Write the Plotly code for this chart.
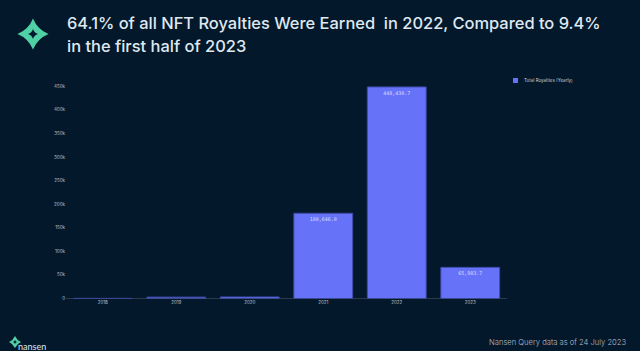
import plotly.graph_objects as go

W, H = 640, 351
BG = "#04182b"

years = ["2018", "2019", "2020", "2021", "2022", "2023"]
royalties = [300, 2900, 3300, 180646.0, 448430.7, 65983.7]
bar_labels = ["", "", "", "180,646.0", "448,430.7", "65,983.7"]
y_ticks = [0, 50000, 100000, 150000, 200000, 250000, 300000, 350000, 400000, 450000]
y_tick_labels = ["0", "50k", "100k", "150k", "200k", "250k", "300k", "350k", "400k", "450k"]
title_lines = ["64.1% of all NFT Royalties Were Earned  in 2022, Compared to 9.4%",
               "in the first half of 2023"]
series_name = "Total Royalties (Yearly)"
source_note = "Nansen Query data as of 24 July 2023"
brand = "nansen"


def px(x):
    return x / W


def py(y):
    return 1 - y / H


def star(cx, cy, r, k):
    d = f"M {px(cx)} {py(cy - r)} "
    d += f"Q {px(cx + k)} {py(cy - k)} {px(cx + r)} {py(cy)} "
    d += f"Q {px(cx + k)} {py(cy + k)} {px(cx)} {py(cy + r)} "
    d += f"Q {px(cx - k)} {py(cy + k)} {px(cx - r)} {py(cy)} "
    d += f"Q {px(cx - k)} {py(cy - k)} {px(cx)} {py(cy - r)} Z"
    return d


def logo_star(cx, cy, r, k, color):
    return dict(type="path", xref="paper", yref="paper", path=star(cx, cy, r, k),
                fillcolor=color, line=dict(width=0))


fig = go.Figure(go.Bar(
    x=years, y=royalties, name=series_name,
    marker=dict(color="#6673f8", line=dict(color="#3f4ca8", width=1)),
    text=bar_labels, textposition="inside", insidetextanchor="end",
    textangle=0, constraintext="none",
    textfont=dict(family="DejaVu Sans Mono", size=5, color="#d8dcff"),
    width=0.8, showlegend=False,
))

TITLE_FONT = dict(family="Inter", size=16.45, color="#dfe8f1", weight=500)
annotations = [
    dict(text=title_lines[0], x=px(65), y=py(23), xref="paper", yref="paper",
         xanchor="left", yanchor="middle", showarrow=False, font=TITLE_FONT),
    dict(text=title_lines[1], x=px(65), y=py(46.5), xref="paper", yref="paper",
         xanchor="left", yanchor="middle", showarrow=False, font=TITLE_FONT),
    dict(text=source_note, x=px(486.5), y=py(342.5), xref="paper", yref="paper",
         xanchor="left", yanchor="middle", showarrow=False,
         font=dict(family="Inter", size=7.6, color="#b4bfca", weight=300)),
    dict(text=brand, x=px(16), y=py(346.5), xref="paper", yref="paper",
         xanchor="left", yanchor="middle", showarrow=False,
         font=dict(family="Lato", size=9, color="#dfe8f1")),
    dict(text=series_name, x=px(521.5), y=py(80.5), xref="paper", yref="paper",
         xanchor="left", yanchor="middle", showarrow=False,
         font=dict(family="Inter", size=4.5, color="#c4ccd6")),
]

shapes = [
    logo_star(33, 34, 15.5, 4.5, "#4fd1a5"),
    logo_star(33, 34, 5, 1.2, BG),
    logo_star(15, 342, 6, 1.8, "#4fd1a5"),
    logo_star(15, 342, 2, 0.5, BG),
    dict(type="rect", xref="paper", yref="paper",
         x0=px(513), x1=px(518), y0=py(83), y1=py(78),
         fillcolor="#6673f8", line=dict(width=0)),
]

fig.update_layout(
    width=W, height=H,
    autosize=False,
    paper_bgcolor=BG, plot_bgcolor=BG,
    margin=dict(l=0, r=0, t=0, b=0),
    showlegend=False,
    xaxis=dict(domain=[px(66), px(507)], type="category", range=[-0.5, 5.5], automargin=False,
               showgrid=False, zeroline=False, showline=False, ticks="",
               tickfont=dict(family="Inter", size=4.5, color="#b9c2cc")),
    yaxis=dict(domain=[py(298.5), py(79)], automargin=False,
               range=[0, (298.5 - 79) / (298.5 - 86.2) * 450000],
               tickmode="array", tickvals=y_ticks, ticktext=y_tick_labels,
               showgrid=False, zeroline=True, zerolinecolor="#2b3a50", zerolinewidth=1,
               showline=False, ticks="",
               tickfont=dict(family="Inter", size=4.5, color="#b9c2cc")),
    annotations=annotations, shapes=shapes,
    bargap=0.2,
)

fig.write_html("out.html", config={"displayModeBar": False},
               post_script="document.body.style.margin='0';document.body.style.background='%s';" % BG)
